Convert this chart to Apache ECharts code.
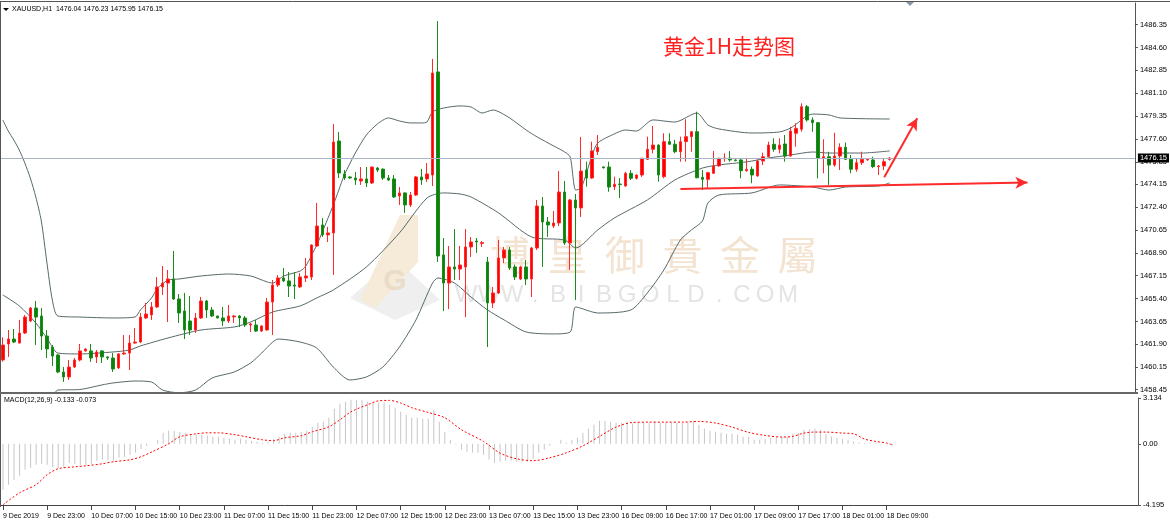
<!DOCTYPE html>
<html><head><meta charset="utf-8">
<script src="https://cdn.jsdelivr.net/npm/echarts@6/dist/echarts.min.js"></script>
<style>html,body{margin:0;padding:0;background:#fff}#c{width:1170px;height:530px}</style>
</head><body><div id="c"></div>
<script>
// ---------- DATA ----------
const openP = [1460.71,1461.93,1462.31,1462.00,1462.77,1463.69,1464.68,1464.07,1462.54,1461.70,
1461.09,1459.79,1459.41,1460.17,1460.71,1461.40,1461.40,1460.94,1461.40,1460.94,
1460.86,1460.10,1461.17,1461.24,1462.00,1462.08,1463.92,1464.15,1464.76,1466.29,
1466.59,1466.90,1465.37,1464.45,1463.69,1463.00,1463.92,1465.22,1464.53,1464.07,
1463.92,1463.69,1464.00,1464.07,1463.92,1463.38,1463.38,1462.92,1463.00,1465.14,
1466.44,1466.98,1466.75,1466.44,1466.29,1466.98,1467.05,1469.42,1471.03,1470.27,
1470.42,1477.45,1474.93,1474.70,1474.62,1474.39,1474.55,1474.24,1475.38,1475.30,
1474.62,1474.55,1473.25,1473.48,1472.56,1473.32,1474.70,1474.55,1474.85,1482.73,
1468.74,1466.59,1467.82,1467.66,1467.82,1469.35,1469.80,1469.62,1468.20,1465.07,
1465.83,1468.51,1469.12,1467.82,1466.90,1467.82,1466.90,1469.27,1472.48,1471.26,
1470.95,1471.18,1473.55,1469.65,1472.94,1472.33,1475.23,1474.62,1476.63,1475.47,
1475.46,1473.96,1474.16,1474.01,1474.98,1474.60,1474.85,1476.05,1476.82,1477.14,
1474.72,1477.40,1477.20,1476.63,1477.40,1477.78,1478.16,1474.67,1474.52,1474.98,
1475.54,1476.10,1476.13,1476.00,1476.00,1475.18,1475.29,1474.78,1475.92,1476.25,
1477.20,1476.82,1477.22,1476.30,1478.04,1478.35,1480.07,1479.06,1478.85,1476.13,
1476.25,1475.61,1476.30,1476.97,1476.05,1475.29,1475.79,1476.00,1476.00,1475.49,
1475.54,1476.04];
const closeP = [1461.85,1462.31,1462.08,1462.77,1463.99,1464.68,1463.99,1462.54,1461.55,1461.01,
1459.79,1459.41,1460.17,1460.71,1461.40,1461.55,1460.86,1461.32,1460.94,1460.86,
1460.02,1461.17,1461.24,1462.00,1462.08,1463.99,1464.22,1464.76,1466.29,1466.59,
1466.90,1465.37,1464.30,1463.00,1463.00,1463.92,1465.22,1464.53,1464.07,1463.92,
1463.69,1464.07,1464.07,1463.92,1463.38,1463.46,1462.92,1463.31,1465.14,1466.44,
1466.98,1466.75,1466.36,1466.36,1467.05,1467.13,1469.50,1470.95,1470.27,1470.42,
1477.37,1475.00,1474.62,1474.62,1474.47,1474.55,1474.24,1475.46,1475.23,1474.62,
1474.47,1473.17,1473.48,1472.56,1473.32,1474.70,1474.47,1474.93,1482.65,1468.66,
1466.59,1467.82,1467.66,1467.97,1469.35,1469.73,1469.73,1469.68,1465.07,1465.83,
1468.51,1469.12,1467.74,1467.05,1467.82,1466.90,1469.27,1472.48,1471.26,1471.03,
1471.18,1473.55,1469.65,1472.94,1472.33,1475.15,1474.62,1476.69,1476.97,1475.40,
1473.93,1474.14,1474.12,1474.98,1474.60,1474.85,1476.13,1476.82,1477.14,1474.85,
1477.40,1477.20,1476.63,1477.40,1477.78,1478.16,1474.64,1474.52,1475.03,1475.54,
1476.13,1476.15,1476.00,1475.95,1475.18,1475.29,1474.85,1475.92,1476.25,1477.14,
1476.82,1477.14,1476.30,1478.21,1478.42,1480.07,1479.06,1478.85,1476.13,1476.25,
1475.61,1476.30,1476.97,1476.05,1475.29,1475.79,1476.05,1476.05,1475.49,1475.54,
1475.87,1476.15];
const lowP = [1460.58,1460.94,1462.00,1462.00,1462.70,1463.60,1461.85,1461.47,1460.86,1460.25,
1459.70,1459.03,1459.18,1460.10,1460.60,1461.35,1460.56,1460.48,1460.48,1460.71,
1459.79,1460.02,1461.09,1459.94,1461.95,1462.00,1463.84,1463.77,1464.68,1465.68,
1463.61,1465.30,1463.54,1462.31,1462.62,1462.77,1463.84,1463.92,1463.99,1463.88,
1463.31,1463.54,1463.54,1463.23,1463.23,1462.85,1462.85,1462.85,1462.95,1462.62,
1466.29,1466.67,1465.52,1465.37,1466.20,1466.67,1466.82,1469.35,1470.11,1469.73,
1467.21,1474.62,1474.47,1474.55,1474.09,1474.09,1473.93,1474.16,1475.08,1474.47,
1474.39,1473.10,1472.56,1471.95,1472.40,1473.25,1474.09,1474.32,1474.01,1468.20,
1464.45,1464.60,1466.82,1466.82,1463.99,1468.58,1468.89,1469.35,1461.70,1464.68,
1465.75,1468.12,1467.59,1466.82,1466.82,1466.44,1465.52,1469.12,1467.82,1470.11,
1470.80,1470.95,1469.50,1467.59,1465.29,1471.64,1473.96,1474.55,1476.38,1475.35,
1473.57,1473.70,1473.09,1473.96,1474.47,1474.50,1474.70,1476.00,1476.50,1474.34,
1474.60,1477.14,1476.51,1475.87,1475.87,1476.63,1474.60,1473.70,1473.83,1474.95,
1475.50,1475.87,1475.87,1475.90,1474.60,1475.10,1474.22,1474.72,1475.61,1476.20,
1476.63,1476.51,1475.87,1476.25,1477.01,1478.16,1478.93,1478.16,1474.60,1474.98,
1474.09,1475.49,1475.23,1476.00,1474.98,1475.10,1475.61,1475.95,1475.38,1474.85,
1475.23,1475.95];
const highP = [1462.44,1463.00,1463.08,1463.77,1464.15,1464.75,1465.22,1464.68,1463.00,1461.85,
1461.15,1460.17,1460.71,1460.86,1461.93,1461.60,1461.93,1461.47,1461.45,1460.98,
1461.24,1461.24,1462.62,1462.62,1463.15,1464.30,1465.07,1465.14,1467.05,1467.89,
1467.59,1469.04,1465.75,1465.83,1465.60,1464.30,1465.53,1465.30,1464.76,1464.10,
1464.76,1464.91,1464.15,1464.15,1464.07,1463.54,1463.77,1463.35,1465.45,1466.82,
1467.20,1467.74,1467.43,1467.43,1467.36,1468.51,1469.55,1472.71,1471.56,1470.88,
1478.75,1478.14,1475.23,1474.75,1475.08,1475.46,1475.46,1475.50,1475.46,1475.35,
1474.85,1474.85,1473.93,1473.52,1473.55,1474.78,1475.31,1475.77,1483.72,1486.62,
1470.03,1469.42,1470.72,1469.42,1470.72,1470.11,1470.03,1469.80,1468.58,1466.29,
1469.88,1469.35,1469.35,1468.00,1467.90,1468.35,1469.35,1472.94,1473.17,1471.64,
1472.10,1475.15,1474.39,1473.02,1473.40,1477.76,1475.87,1477.40,1477.91,1475.50,
1475.87,1474.72,1474.62,1475.10,1475.23,1474.90,1476.15,1477.78,1478.60,1477.20,
1478.04,1478.04,1477.53,1477.78,1479.11,1478.20,1479.69,1475.23,1475.10,1476.69,
1476.15,1476.51,1476.69,1476.05,1476.13,1476.13,1475.49,1476.05,1476.56,1477.40,
1477.66,1477.66,1477.91,1478.54,1478.80,1480.33,1480.20,1479.26,1478.90,1477.58,
1476.63,1478.08,1477.27,1477.33,1476.38,1476.13,1476.63,1476.10,1476.25,1475.61,
1476.13,1476.23];

// Bollinger bands: [bar index, price]
const bbUpper = [[0,1479.06],[1,1478.21],[2,1477.53],[3,1476.76],[4,1475.77],[5,1474.62],[6,1473.17],[7,1471.33],[8,1468.20],[9,1465.29],[10,1464.07],[14,1463.99],[20,1463.92],[24,1463.99],[25,1464.53],[27,1465.45],[28,1466.14],[29,1466.52],[30,1466.82],[32,1466.90],[36,1467.13],[41,1467.28],[45,1467.13],[48,1466.67],[49,1466.59],[51,1467.13],[54,1467.51],[55,1467.89],[57,1469.50],[58,1470.49],[60,1472.56],[61,1473.70],[62,1474.85],[64,1476.53],[66,1477.91],[68,1478.75],[70,1479.21],[72,1478.98],[74,1478.83],[76,1478.83],[77,1478.90],[78,1479.67],[80,1479.97],[83,1480.13],[85,1480.05],[87,1479.59],[89,1479.82],[92,1479.21],[95,1478.29],[97,1477.76],[100,1477.07],[102,1476.61],[103,1476.23],[104,1473.70],[105,1473.86],[107,1476.38],[108,1477.30],[111,1477.99],[113,1478.29],[115,1478.21],[118,1479.06],[122,1478.90],[126,1479.59],[128,1478.67],[130,1478.37],[136,1478.06],[141,1478.14],[143,1478.44],[147,1479.51],[150,1479.44],[152,1479.21],[161,1479.13]];
const bbMiddle = [[0,1465.68],[3,1464.84],[6,1463.54],[8,1462.39],[10,1461.24],[14,1461.17],[20,1461.32],[23,1461.47],[25,1461.78],[30,1462.39],[36,1463.00],[42,1463.23],[45,1463.61],[49,1464.38],[54,1464.84],[57,1465.45],[60,1466.06],[66,1467.82],[72,1470.42],[77,1473.09],[80,1473.48],[83,1473.40],[85,1473.17],[90,1471.95],[96,1470.11],[102,1469.88],[104,1469.27],[108,1470.65],[111,1471.56],[117,1472.94],[122,1474.47],[127,1475.38],[130,1475.62],[135,1475.85],[139,1476.15],[143,1476.38],[147,1476.61],[150,1476.53],[156,1476.53],[161,1476.69]];
const bbLower = [[0,1452.3],[3,1452.9],[6,1453.9],[8,1456.6],[9,1457.8],[10,1458.41],[14,1458.45],[18,1458.80],[20,1458.95],[24,1459.10],[27,1459.03],[29,1458.41],[32,1458.2],[35,1458.41],[38,1459.33],[42,1459.79],[45,1460.48],[47,1461.24],[49,1462.08],[50,1462.31],[54,1462.08],[57,1461.62],[60,1460.17],[63,1459.18],[66,1459.41],[69,1460.17],[72,1461.70],[75,1463.77],[78,1466.59],[79,1466.98],[82,1466.59],[85,1465.52],[88,1464.53],[91,1463.77],[95,1462.85],[100,1462.70],[103,1462.85],[104,1464.76],[107,1464.38],[108,1464.30],[114,1464.53],[117,1465.83],[120,1467.59],[123,1469.88],[125,1470.65],[127,1471.33],[128,1472.71],[130,1473.32],[136,1473.48],[141,1474.09],[147,1473.93],[150,1473.70],[153,1473.93],[159,1474.01],[161,1474.24]];

// MACD main (histogram) per bar, signal line at read points
const macdMain = [-3.15,-2.8,-2.47,-2.2,-1.78,-1.64,-1.44,-1.37,-1.44,-1.58,
-1.64,-1.58,-1.3,-1.37,-1.44,-1.44,-1.37,-1.16,-1.1,-1.1,
-1.16,-0.96,-0.89,-0.75,-0.62,-0.34,-0.14,0.0,0.27,0.75,
0.89,0.89,0.82,0.75,0.62,0.62,0.62,0.55,0.48,0.48,
0.41,0.34,0.27,0.34,0.27,0.21,0.14,0.07,0.14,0.34,
0.48,0.68,0.75,0.75,0.82,0.89,1.16,1.44,1.51,1.78,
2.4,2.74,2.88,3.01,3.01,3.01,2.88,2.81,2.81,
2.83,2.67,2.47,2.19,1.99,1.78,1.78,1.71,1.71,2.33,
1.51,0.82,0.27,-0.05,-0.41,-0.55,-0.62,-0.62,-0.75,-1.1,
-1.3,-1.23,-1.16,-1.16,-1.23,-1.23,-1.23,-1.03,-0.62,-0.41,
-0.14,0.0,0.27,0.07,0.27,0.41,0.75,1.03,1.3,1.58,
1.58,1.51,1.44,1.44,1.44,1.37,1.44,1.44,1.44,1.51,
1.44,1.44,1.44,1.44,1.44,1.44,1.58,1.3,1.03,0.89,
0.82,0.75,0.68,0.68,0.62,0.48,0.48,0.27,
0.27,0.32,0.39,0.43,0.46,0.50,0.66,0.73,0.96,1.0,
1.03,0.96,0.66,0.50,0.39,0.32,0.27,0.16,0.09,0.05,
0.05,0.05,0.01,-0.05,-0.133];
const macdSignal = [[0,-4.18],[3,-3.36],[6,-2.8],[8,-2.12],[10,-1.71],[13,-1.58],[15,-1.51],[18,-1.37],[20,-1.23],[23,-1.1],[25,-0.89],[27,-0.55],[30,0.0],[32,0.48],[35,0.68],[37,0.75],[39,0.75],[42,0.62],[44,0.48],[47,0.27],[49,0.21],[51,0.41],[54,0.55],[56,0.82],[59,1.16],[61,1.64],[63,2.19],[66,2.67],[68,2.94],[70,2.97],[72,2.79],[74,2.47],[77,2.14],[80,1.78],[83,0.96],[87,0.16],[90,-0.64],[93,-1.03],[96,-1.16],[99,-0.96],[102,-0.62],[105,-0.14],[108,0.5],[111,1.14],[114,1.46],[117,1.48],[120,1.48],[123,1.48],[126,1.53],[129,1.42],[132,1.14],[135,0.78],[138,0.57],[141,0.46],[143,0.5],[145,0.73],[147,0.80],[149,0.80],[152,0.73],[154,0.68],[156,0.32],[158,0.16],[160,0.05],[161,-0.073]];

const priceTicks = [1486.35,1484.60,1482.85,1481.10,1479.35,1477.60,1475.85,1474.15,1472.40,1470.65,1468.90,1467.15,1465.40,1463.65,1461.90,1460.15,1458.45];
const macdTicks = [3.134, 0, -4.195];
const macdTickText = ['3.134','0.00','-4.195'];
const timeTicks = [[0,'9 Dec 2019'],[8,'9 Dec 23:00'],[16,'10 Dec 07:00'],[24,'10 Dec 15:00'],[32,'10 Dec 23:00'],[40,'11 Dec 07:00'],[48,'11 Dec 15:00'],[56,'11 Dec 23:00'],[64,'12 Dec 07:00'],[72,'12 Dec 15:00'],[80,'12 Dec 23:00'],[88,'13 Dec 07:00'],[96,'13 Dec 15:00'],[104,'13 Dec 23:00'],[112,'16 Dec 09:00'],[120,'16 Dec 17:00'],[128,'17 Dec 01:00'],[136,'17 Dec 09:00'],[144,'17 Dec 17:00'],[152,'18 Dec 01:00'],[160,'18 Dec 09:00']];
const lastPrice = 1476.15;
const supportLine = [[123,1473.78],[186,1474.28]];
const upArrow = [[160,1474.67],[166,1479.19]];
const headerText = 'XAUUSD,H1  1476.04 1476.23 1475.95 1476.15';
const macdText = 'MACD(12,26,9) -0.133 -0.073';
const titleText = '黄金1H走势图';

// ---------- CHART ----------
const SLOTS = 206; // bar slots across the plot (includes chart shift)
const cats = []; for (let i = 0; i < SLOTS; i++) cats.push(String(i));
const ohlc = openP.map((o, i) => [o, closeP[i], lowP[i], highP[i]]);
const tickMap = {}; timeTicks.forEach(t => { tickMap[t[0]] = t[1]; });
const hasTick = (i) => tickMap[i] !== undefined;
const FONT = 'Liberation Sans';
const bandStyle = { color: '#56696a', width: 1 };

const chart = echarts.init(document.getElementById('c'), null, { renderer: 'canvas' });
const wmChars = ['博','皇','御','貴','金','屬'];
const urlChars = 'WWW.BIBGOLD.COM'.split('');
const graphics = [];
// frames
graphics.push({ type: 'line', shape: { x1: 0, y1: 1.5, x2: 1170, y2: 1.5 }, style: { stroke: '#555', lineWidth: 1 }, z: 20 });
graphics.push({ type: 'line', shape: { x1: 0.5, y1: 1, x2: 0.5, y2: 507 }, style: { stroke: '#555', lineWidth: 1 }, z: 20 });
graphics.push({ type: 'rect', shape: { x: 0, y: 392, width: 1138, height: 2 }, style: { fill: '#666' }, z: 20 });
graphics.push({ type: 'polygon', shape: { points: [[906, 2], [914, 2], [910, 6]] }, style: { fill: '#8a97a8' }, z: 20 });
// watermark logo
graphics.push({ type: 'polygon', shape: { points: [[395, 258], [440, 300], [395, 320], [350, 298]] }, style: { fill: '#efefef' }, z: 1 });
graphics.push({ type: 'polygon', shape: { points: [[400, 215], [418, 215], [418, 262], [375, 308], [360, 300]] }, style: { fill: '#f6ead8' }, z: 1 });
graphics.push({ type: 'text', style: { text: 'G', x: 395, y: 282, fill: '#e9dcc8', font: 'bold 30px "Liberation Sans"', textAlign: 'center', textVerticalAlign: 'middle' }, z: 1 });
wmChars.forEach((ch, k) => graphics.push({ type: 'text', style: { text: ch, x: 510 + k * 57.5, y: 255, fill: '#f3e3d0', font: '40px "Noto Sans CJK TC"', textAlign: 'center', textVerticalAlign: 'middle' }, z: 1 }));
urlChars.forEach((ch, k) => graphics.push({ type: 'text', style: { text: ch, x: 466 + k * 23, y: 295, fill: '#e4e4e4', font: '24px "Liberation Sans"', textAlign: 'center', textVerticalAlign: 'middle' }, z: 1 }));
// texts
graphics.push({ type: 'polygon', shape: { points: [[3, 8], [9, 8], [6, 11]] }, style: { fill: '#000' }, z: 20 });
graphics.push({ type: 'text', style: { text: headerText, x: 12, y: 9.5, fill: '#000', font: '7px "Liberation Sans"', textVerticalAlign: 'middle' }, z: 20 });
graphics.push({ type: 'text', style: { text: macdText, x: 4, y: 400, fill: '#000', font: '7px "Liberation Sans"', textVerticalAlign: 'middle' }, z: 20 });
graphics.push({ type: 'text', style: { text: titleText, x: 729, y: 46, fill: '#ff2020', font: '21px "Noto Sans CJK SC"', textAlign: 'center', textVerticalAlign: 'middle' }, z: 20 });

const option = {
  animation: false,
  backgroundColor: '#ffffff',
  graphic: graphics,
  grid: [
    { left: -1, right: 32, top: 3, height: 389 },
    { left: -1, right: 32, top: 398, height: 107 }
  ],
  xAxis: [
    { type: 'category', gridIndex: 0, data: cats, boundaryGap: true, show: false },
    { type: 'category', gridIndex: 1, data: cats, boundaryGap: true,
      axisLine: { show: true, onZero: false, lineStyle: { color: '#444', width: 1 } },
      axisTick: { show: true, alignWithLabel: true, interval: (i) => hasTick(i), length: 5, lineStyle: { color: '#444' } },
      axisLabel: { show: true, interval: (i) => hasTick(i), formatter: (v, i) => tickMap[i] || '', align: 'left', margin: 8, fontSize: 7, fontFamily: FONT, color: '#000' },
      splitLine: { show: false } }
  ],
  yAxis: [
    { type: 'value', gridIndex: 0, position: 'right', min: 1458.26, max: 1488.0,
      axisLine: { show: true, lineStyle: { color: '#555' } },
      axisTick: { show: true, customValues: priceTicks, length: 3, lineStyle: { color: '#555' } },
      axisLabel: { customValues: priceTicks, formatter: (v) => v.toFixed(2), fontSize: 7.5, margin: 5, color: '#000', fontFamily: FONT },
      splitLine: { show: false } },
    { type: 'value', gridIndex: 1, position: 'right', min: -4.195, max: 3.134,
      axisLine: { show: true, lineStyle: { color: '#555' } },
      axisTick: { show: true, customValues: macdTicks, length: 3, lineStyle: { color: '#555' } },
      axisLabel: { customValues: macdTicks, formatter: (v) => macdTickText[macdTicks.indexOf(v)] || '', fontSize: 7.5, margin: 5, color: '#000', fontFamily: FONT },
      splitLine: { show: false } }
  ],
  series: [
    { name: 'price', type: 'line', xAxisIndex: 0, yAxisIndex: 0, data: [], silent: true,
      markLine: { silent: true, symbol: 'none', animation: false,
        lineStyle: { color: '#a9b5c6', width: 1, type: 'solid' },
        label: { show: true, position: 'end', distance: 3, formatter: lastPrice.toFixed(2), backgroundColor: '#000', color: '#fff', padding: [1, 2, 0, 2], fontSize: 7.5, fontFamily: FONT },
        data: [{ yAxis: lastPrice }] } },
    { name: 'upper', type: 'line', xAxisIndex: 0, yAxisIndex: 0, data: bbUpper, showSymbol: false, smooth: 0.25, lineStyle: bandStyle, z: 3 },
    { name: 'middle', type: 'line', xAxisIndex: 0, yAxisIndex: 0, data: bbMiddle, showSymbol: false, smooth: 0.25, lineStyle: bandStyle, z: 3 },
    { name: 'lower', type: 'line', xAxisIndex: 0, yAxisIndex: 0, data: bbLower, showSymbol: false, smooth: 0.25, lineStyle: bandStyle, z: 3 },
    { name: 'XAUUSD', type: 'candlestick', xAxisIndex: 0, yAxisIndex: 0, data: ohlc, barWidth: 3, z: 4,
      itemStyle: { color: '#ff0000', color0: '#0b800b', borderColor: '#ff2a2a', borderColor0: '#1a8c1a', borderWidth: 1 },
      markLine: { silent: true, animation: false, symbol: ['none', 'arrow'], symbolSize: [9, 12],
        lineStyle: { color: '#ff2a2a', width: 2, type: 'solid' }, label: { show: false },
        data: [
          [{ coord: [String(supportLine[0][0]), supportLine[0][1]] }, { coord: [String(supportLine[1][0]), supportLine[1][1]] }],
          [{ coord: [String(upArrow[0][0]), upArrow[0][1]] }, { coord: [String(upArrow[1][0]), upArrow[1][1]] }]
        ] } },
    { name: 'MACD', type: 'bar', xAxisIndex: 1, yAxisIndex: 1, data: macdMain, barWidth: 1, itemStyle: { color: '#c6c6c6' }, silent: true },
    { name: 'Signal', type: 'line', xAxisIndex: 1, yAxisIndex: 1, data: macdSignal, showSymbol: false, smooth: 0.3,
      lineStyle: { color: '#ff0000', width: 1, type: [2, 2] }, z: 5 }
  ]
};
chart.setOption(option);
</script>
</body></html>
